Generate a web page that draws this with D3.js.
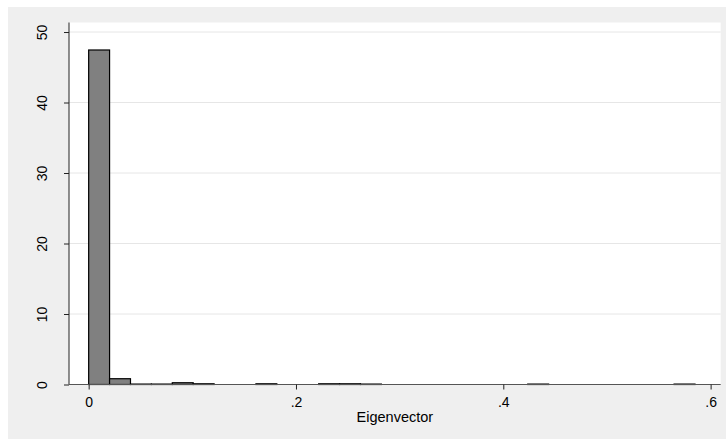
<!DOCTYPE html>
<html>
<head>
<meta charset="utf-8">
<script src="https://cdn.jsdelivr.net/npm/d3@7"></script>
<style>
  html, body { margin: 0; padding: 0; background: #ffffff; }
  svg { display: block; }
  text { font-family: "Liberation Sans", Arial, sans-serif; }
</style>
</head>
<body>
<div id="chart"></div>
<script>
// Histogram bins (lower edges) and density heights
const binWidth = 0.02017;
const binStarts = [0, 0.02017, 0.04034, 0.06051, 0.08068, 0.10085, 0.16136, 0.22187, 0.24204, 0.26221, 0.42357, 0.56476];
const densities = [47.45, 0.82, 0.06, 0.06, 0.25, 0.1, 0.1, 0.1, 0.1, 0.06, 0.06, 0.06];
const yTicks = [0, 10, 20, 30, 40, 50];
const xTicks = [0, 0.2, 0.4, 0.6];
const xTickLabels = ["0", ".2", ".4", ".6"];
const xTitle = "Eigenvector";

const W = 726, H = 439;
const FS = 14;
const svg = d3.select("#chart").append("svg").attr("width", W).attr("height", H);

// graph region
svg.append("rect").attr("x", 8).attr("y", 7).attr("width", W - 8).attr("height", H - 7).attr("fill", "#efefef");

const plot = { left: 69, right: 720.7, top: 22.5, bottom: 384.5 };
svg.append("rect").attr("x", plot.left).attr("y", plot.top)
  .attr("width", plot.right - plot.left).attr("height", plot.bottom - plot.top).attr("fill", "#ffffff");

const x = d3.scaleLinear().domain([-0.01897, 0.60973]).range([plot.left, plot.right]);
const y = d3.scaleLinear().domain([0, 51.35]).range([plot.bottom, plot.top]);

// gridlines
svg.append("g").selectAll("line").data(yTicks.filter(d => d > 0)).join("line")
  .attr("x1", plot.left).attr("x2", plot.right)
  .attr("y1", d => y(d)).attr("y2", d => y(d))
  .attr("stroke", "#e6e6e6").attr("stroke-width", 1);

// bars
const bars = binStarts.map((s, i) => ({ x0: s, x1: s + binWidth, v: densities[i] }));
svg.append("g").selectAll("rect").data(bars).join("rect")
  .attr("x", d => x(d.x0))
  .attr("y", d => y(d.v))
  .attr("width", d => x(d.x1) - x(d.x0))
  .attr("height", d => y(0) - y(d.v))
  .attr("fill", "#808080")
  .attr("stroke", "#000000")
  .attr("stroke-width", 1.2);

// y axis
const yAxis = d3.axisLeft(y).tickValues(yTicks).tickSize(5).tickPadding(10).tickFormat(d3.format("d"));
const gy = svg.append("g").attr("transform", `translate(${plot.left},0)`).call(yAxis);
gy.select(".domain").attr("d", `M0,${plot.top}V${plot.bottom}`).attr("stroke", "#222").attr("stroke-width", 1);
gy.selectAll(".tick line").attr("stroke", "#222");
gy.selectAll(".tick text")
  .attr("font-size", FS).attr("fill", "#000")
  .attr("text-anchor", "middle")
  .attr("x", 0).attr("y", 0).attr("dy", 0)
  .attr("transform", "translate(-22.3,0) rotate(-90)");

// x axis
const xAxis = d3.axisBottom(x).tickValues(xTicks).tickSize(5).tickPadding(8)
  .tickFormat((d, i) => xTickLabels[i]);
const gx = svg.append("g").attr("transform", `translate(0,${plot.bottom})`).call(xAxis);
gx.select(".domain").attr("d", `M${plot.left},0H${plot.right}`).attr("stroke", "#555").attr("stroke-width", 1.2);
gx.selectAll(".tick line").attr("stroke", "#222");
gx.selectAll(".tick text").attr("font-size", FS).attr("fill", "#000");

// x title
svg.append("text").attr("x", (plot.left + plot.right) / 2).attr("y", 422)
  .attr("text-anchor", "middle").attr("font-size", 14.5).attr("fill", "#000").text(xTitle);
</script>
</body>
</html>
